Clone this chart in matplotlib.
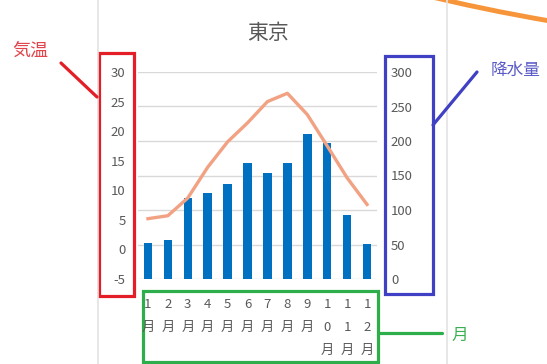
import matplotlib
matplotlib.use("Agg")
import matplotlib.pyplot as plt
from matplotlib.patches import Rectangle
from matplotlib.lines import Line2D
from matplotlib.path import Path
from matplotlib.patches import PathPatch

plt.rcParams['font.family'] = ['Noto Sans CJK JP', 'DejaVu Sans']
plt.rcParams['axes.unicode_minus'] = False

# Tokyo monthly normals
months = ["1月", "2月", "3月", "4月", "5月", "6月", "7月", "8月", "9月", "10月", "11月", "12月"]
temperature = [5.2, 5.7, 8.7, 13.9, 18.2, 21.4, 25.0, 26.4, 22.8, 17.5, 12.1, 7.6]
precipitation = [52.3, 56.1, 117.5, 124.5, 137.8, 167.7, 153.5, 168.2, 209.9, 197.8, 92.5, 51.0]
temp_ticks = [-5, 0, 5, 10, 15, 20, 25, 30]
precip_ticks = [0, 50, 100, 150, 200, 250, 300]

W, H = 547, 364
fig = plt.figure(figsize=(W / 100, H / 100), dpi=100)


def fx(px):
    return px / W


def fy(py):
    return 1 - py / H


ax_t = fig.add_axes([fx(138), fy(279), fx(377) - fx(138), fy(72) - fy(279)])
ax_p = ax_t.twinx()

x = list(range(len(months)))
gray = "#595959"

# precipitation bars (right scale)
ax_p.bar(x, precipitation, width=0.43, color="#0070C0", zorder=2)
ax_p.set_ylim(0, 300)
ax_p.set_yticks(precip_ticks)
ax_p.grid(axis="y", color="#D9D9D9", linewidth=1.0, zorder=0)
ax_p.set_axisbelow(True)

# temperature line (left scale), drawn above the bars
ax_t.plot(x, temperature, color="#F2A283", linewidth=2.4, solid_joinstyle="round", zorder=3)
ax_t.set_ylim(-5, 30)
ax_t.set_yticks(temp_ticks)
ax_t.set_zorder(ax_p.get_zorder() + 1)
ax_t.patch.set_visible(False)
ax_t.set_xlim(-0.5, len(months) - 0.5)

ax_t.set_xticks(x)
ax_t.set_xticklabels(["\n".join(m) for m in months], linespacing=1.95)

for a in (ax_t, ax_p):
    for s in a.spines.values():
        s.set_visible(False)
    a.tick_params(length=0, colors=gray, labelsize=9.5)
ax_t.tick_params(axis="y", pad=9)
ax_p.tick_params(axis="y", pad=10)
ax_t.tick_params(axis="x", pad=14)
ax_p.tick_params(axis="x", bottom=False, labelbottom=False)
for lbl in ax_t.get_xticklabels():
    lbl.set_verticalalignment("top")

fig.text(fx(268), fy(33), "東京", ha="center", va="center", fontsize=15, color=gray)

# chart frame edges
for px in (98, 447):
    fig.add_artist(Line2D([fx(px), fx(px)], [0, 1], color="#E3E3E3", linewidth=1.2))

# annotation boxes and labels
def box(x0, y0, x1, y1, color):
    fig.add_artist(Rectangle((fx(x0), fy(y1)), fx(x1) - fx(x0), fy(y0) - fy(y1),
                             fill=False, edgecolor=color, linewidth=2.3,
                             transform=fig.transFigure))


def seg(x0, y0, x1, y1, color):
    fig.add_artist(Line2D([fx(x0), fx(x1)], [fy(y0), fy(y1)], color=color,
                          linewidth=2.3, solid_capstyle="round"))


red = "#E41E26"
blue = "#4040C4"
green = "#2EAE4A"

box(99, 53, 134, 296, red)
seg(61, 63, 97, 97, red)
fig.text(fx(30), fy(51), "気温", ha="center", va="center", fontsize=13, color="#E0444C")

box(385, 56, 433, 294, blue)
seg(433, 125, 477, 72, blue)
fig.text(fx(516), fy(70), "降水量", ha="center", va="center", fontsize=12, color="#5A5AC8")

box(143, 291, 378, 362, green)
seg(378, 333, 442, 333, green)
fig.text(fx(460), fy(335), "月", ha="center", va="center", fontsize=12, color="#3CB050")

# orange stroke across the top-right corner
arc = Path([(fx(420), fy(-6)), (fx(480), fy(9)), (fx(550), fy(21))],
           [Path.MOVETO, Path.CURVE3, Path.CURVE3])
fig.add_artist(PathPatch(arc, fill=False, edgecolor="#F7953B", linewidth=3.5,
                         transform=fig.transFigure))

fig.savefig("out.png", dpi=100, facecolor="white")
